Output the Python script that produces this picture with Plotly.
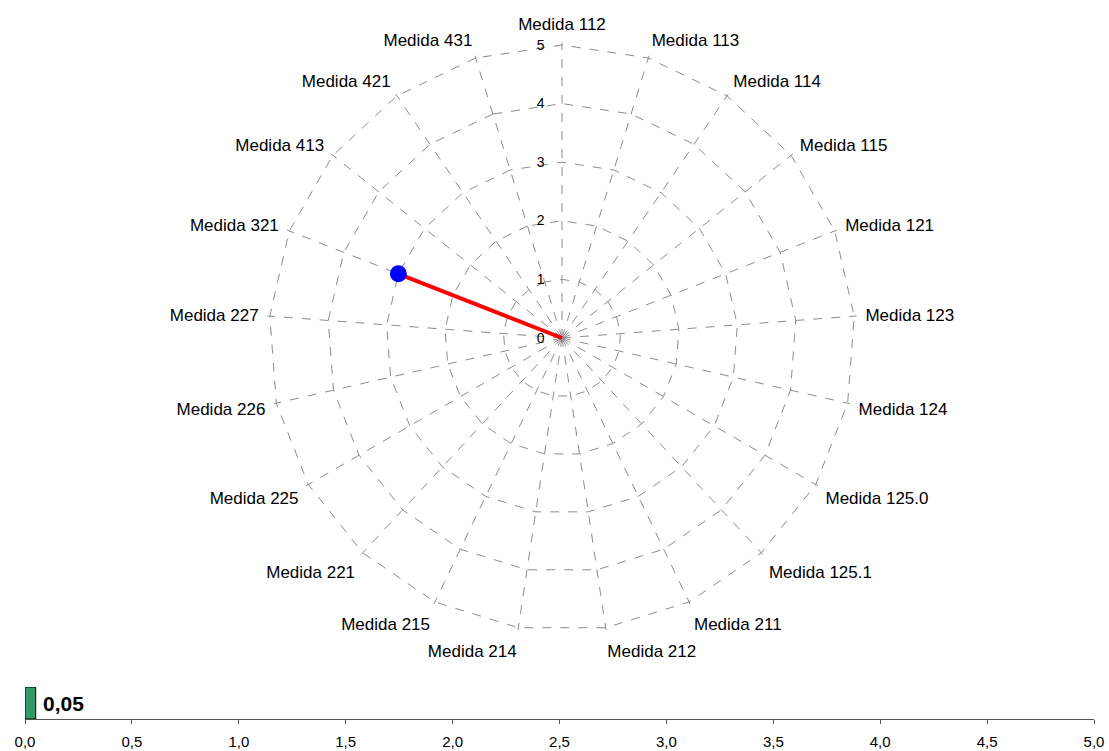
import plotly.graph_objects as go

categories = ["Medida 112", "Medida 113", "Medida 114", "Medida 115", "Medida 121",
              "Medida 123", "Medida 124", "Medida 125.0", "Medida 125.1", "Medida 211",
              "Medida 212", "Medida 214", "Medida 215", "Medida 221", "Medida 225",
              "Medida 226", "Medida 227", "Medida 321", "Medida 413", "Medida 421",
              "Medida 431"]
values = [0, 0, 0, 0, 0, 0, 0, 0, 0, 0, 0, 0, 0, 0, 0, 0, 0, 3, 0, 0, 0]
radial_ticks = [0, 1, 2, 3, 4, 5]

bar_value = [0.05]
bar_label = ["0,05"]
x_ticks = [0, 0.5, 1, 1.5, 2, 2.5, 3, 3.5, 4, 4.5, 5]
x_ticktext = ["0,0", "0,5", "1,0", "1,5", "2,0", "2,5", "3,0", "3,5", "4,0", "4,5", "5,0"]

W, H = 1109, 751
RMAX = 5.04
cx, cy = 562, 338
R = 293 * RMAX / 5

fig = go.Figure()
fig.add_trace(go.Scatterpolar(
    r=values, theta=categories, mode="lines+markers",
    line=dict(color="#ff0000", width=4),
    marker=dict(color="#0000ff", size=17),
    showlegend=False, cliponaxis=False,
))

fig.add_trace(go.Bar(
    x=bar_value, y=[0], orientation="h",
    marker=dict(color="#339966", line=dict(color="#000000", width=1)),
    width=1, xaxis="x", yaxis="y", showlegend=False, cliponaxis=False,
))
fig.add_annotation(
    x=bar_value[0], y=0, xref="x", yref="y", text="<b>" + bar_label[0] + "</b>",
    showarrow=False, xanchor="left", yanchor="middle", xshift=5,
    font=dict(family="Liberation Sans, Arial", size=21, color="#000000"),
)

grid = dict(gridcolor="#8c8c8c", gridwidth=1, griddash="dash")

fig.update_layout(
    width=W, height=H,
    margin=dict(l=0, r=0, t=0, b=0, autoexpand=False),
    paper_bgcolor="white", plot_bgcolor="white",
    font=dict(family="Liberation Sans, Arial", color="#000000"),
    polar=dict(
        domain=dict(x=[(cx - R) / W, (cx + R) / W], y=[(H - cy - R) / H, (H - cy + R) / H]),
        bgcolor="white",
        gridshape="linear",
        angularaxis=dict(rotation=90, direction="clockwise", showline=False,
                         ticks="outside", ticklen=5, tickcolor="rgba(0,0,0,0)",
                         tickfont=dict(size=17), **grid),
        radialaxis=dict(range=[0, RMAX], tickvals=radial_ticks, angle=90, showline=False,
                        ticks="outside", ticklen=12, tickcolor="rgba(0,0,0,0)",
                        tickfont=dict(size=14), side="counterclockwise",
                        tickangle=90, **grid),
    ),
    xaxis=dict(domain=[25 / W, 1094 / W], range=[0, 5], tickvals=x_ticks, ticktext=x_ticktext,
               showline=True, linecolor="#555555", linewidth=1, ticks="outside",
               ticklen=4, tickcolor="#555555", showgrid=False, zeroline=False,
               tickfont=dict(size=15), ticklabelstandoff=5, anchor="y", automargin=False),
    yaxis=dict(domain=[(H - 719) / H, (H - 687) / H], range=[-0.5, 0.5],
               showticklabels=False, showgrid=False, zeroline=False, showline=False,
               anchor="x", automargin=False),
)

fig.write_html("out.html", config={"displayModeBar": False},
               post_script="document.body.style.margin='0';")
